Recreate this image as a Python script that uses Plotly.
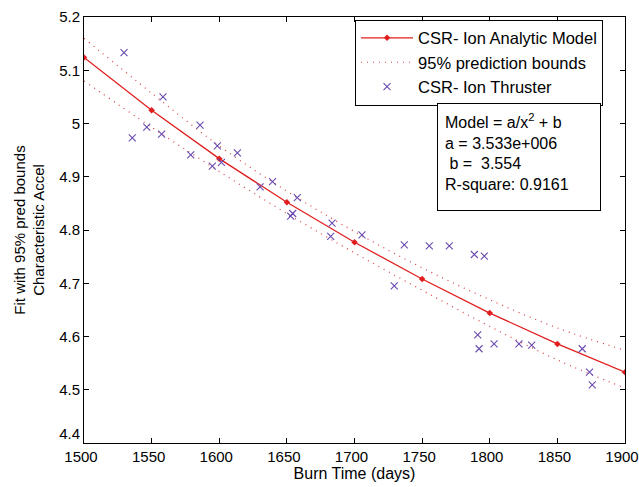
import plotly.graph_objects as go

# Model curve, every 50 days
model_x = [1500, 1550, 1600, 1650, 1700, 1750, 1800, 1850, 1900]
model_y = [5.124, 5.025, 4.934, 4.852, 4.777, 4.708, 4.644, 4.586, 4.533]
upper_y = [5.160, 5.057, 4.958, 4.873, 4.797, 4.729, 4.669, 4.616, 4.574]
lower_y = [5.080, 4.993, 4.910, 4.831, 4.757, 4.687, 4.619, 4.556, 4.503]

# Measured points
obs_x = [1529.6, 1535.7, 1546.4, 1557.4, 1558.4, 1578.9, 1585.8, 1594.9, 1598.6,
         1601.6, 1613.4, 1630.2, 1639.4, 1652.8, 1654.3, 1657.7, 1682.4, 1683.4,
         1705.5, 1729.4, 1736.8, 1755.3, 1770.1, 1788.6, 1791.1, 1792.1, 1796.0,
         1803.2, 1821.6, 1831.0, 1868.4, 1873.8, 1875.8]
obs_y = [5.133, 4.973, 4.993, 4.980, 5.050, 4.941, 4.997, 4.920, 4.958,
         4.927, 4.945, 4.881, 4.891, 4.826, 4.831, 4.861, 4.788, 4.813,
         4.791, 4.695, 4.772, 4.770, 4.770, 4.754, 4.603, 4.577, 4.751,
         4.586, 4.586, 4.584, 4.577, 4.533, 4.509]

x_ticks = [1500, 1550, 1600, 1650, 1700, 1750, 1800, 1850, 1900]
y_ticks = [4.4, 4.5, 4.6, 4.7, 4.8, 4.9, 5.0, 5.1, 5.2]
y_tick_text = ["4.4<br>\u00a0", "4.5", "4.6", "4.7", "4.8", "4.9", "5", "5.1", "5.2"]

FONT = "Liberation Sans, Arial, sans-serif"
RED = "rgb(225,30,30)"
PURPLE = "rgb(105,75,175)"

fig = go.Figure()
fig.add_trace(go.Scatter(
    x=model_x, y=model_y, mode="lines+markers", name="CSR- Ion Analytic Model",
    line=dict(color=RED, width=1.3),
    marker=dict(color=RED, size=5, symbol="diamond"),
))
fig.add_trace(go.Scatter(
    x=model_x, y=upper_y, mode="lines", name="95% prediction bounds",
    line=dict(color="rgb(215,60,60)", width=1.2, dash="1px,5px", shape="spline"),
    legendgroup="pb",
))
fig.add_trace(go.Scatter(
    x=model_x, y=lower_y, mode="lines", name="95% prediction bounds",
    line=dict(color="rgb(215,60,60)", width=1.2, dash="1px,5px", shape="spline"),
    legendgroup="pb", showlegend=False,
))
fig.add_trace(go.Scatter(
    x=obs_x, y=obs_y, mode="markers", name="CSR- Ion Thruster",
    marker=dict(symbol="x-thin", size=7, line=dict(color=PURPLE, width=1.1), color=PURPLE),
))

fig.add_annotation(
    xref="paper", yref="paper", x=0.6525, y=0.798, xanchor="left", yanchor="top",
    text="Model = a/x<sup>2</sup> + b<br>a = 3.533e+006<br>\u00a0b = \u00a03.554<br>R-square: 0.9161",
    showarrow=False, align="left", valign="top",
    width=148, height=92, borderpad=7,
    bordercolor="black", borderwidth=1, bgcolor="white",
    font=dict(family=FONT, size=16, color="black"),
)

axis_common = dict(
    showline=True, linecolor="black", linewidth=1, mirror="ticks",
    ticks="inside", ticklen=5, tickcolor="black", showgrid=False, zeroline=False,
    tickfont=dict(family=FONT, size=15, color="black"),
    ticklabeloverflow="allow", automargin=False,
)

fig.update_layout(
    width=639, height=487,
    margin=dict(l=84, r=14, t=17, b=44),
    paper_bgcolor="white", plot_bgcolor="white",
    font=dict(family=FONT, size=16, color="black"),
    showlegend=True,
    legend=dict(
        x=0.501, y=0.994, xanchor="left", yanchor="top",
        bordercolor="black", borderwidth=1, bgcolor="white",
        font=dict(family=FONT, size=16.5, color="black"),
        itemwidth=52, tracegroupgap=0,
    ),
    xaxis=dict(range=[1500, 1900], tickvals=x_ticks, ticklabelshift=-3,
               title=dict(text="Burn Time (days)", standoff=2,
                          font=dict(family=FONT, size=16)),
               **axis_common),
    yaxis=dict(range=[4.4, 5.2], tickvals=y_ticks, ticktext=y_tick_text,
               title=dict(text="Fit with 95% pred bounds<br>Characteristic Accel", standoff=10,
                          font=dict(family=FONT, size=15)),
               **axis_common),
)

fig.write_html("out.html")
